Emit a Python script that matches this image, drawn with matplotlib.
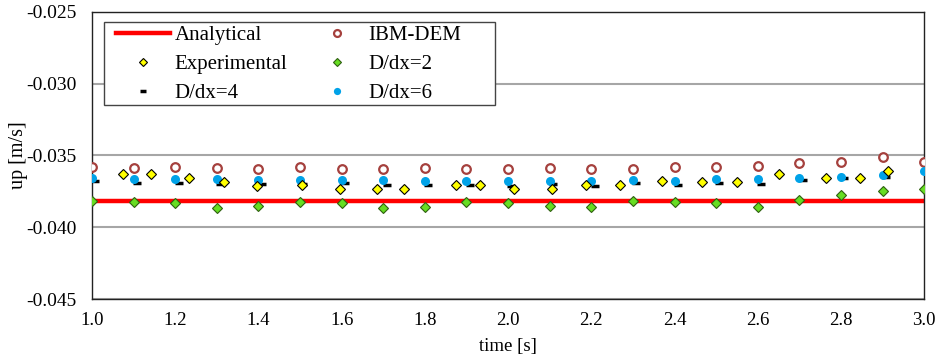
import matplotlib
matplotlib.use('Agg')
import matplotlib.pyplot as plt
from matplotlib.patches import Rectangle
from matplotlib.ticker import FormatStrFormatter, MultipleLocator

plt.rcParams['font.family'] = ['Liberation Serif', 'DejaVu Serif']
plt.rcParams['axes.unicode_minus'] = False

# analytical solution (constant)
t_analytical = [1.0, 3.0]
up_analytical = [-0.03815, -0.03815]

# simulation output times
t_sim = [1.0, 1.1, 1.2, 1.3, 1.4, 1.5, 1.6, 1.7, 1.8, 1.9, 2.0,
         2.1, 2.2, 2.3, 2.4, 2.5, 2.6, 2.7, 2.8, 2.9, 3.0]

up_ibm_dem = [-0.03578, -0.03585, -0.03580, -0.03590, -0.03594, -0.03580, -0.03594,
              -0.03594, -0.03590, -0.03595, -0.03595, -0.03585, -0.03594, -0.03594,
              -0.03583, -0.03583, -0.03571, -0.03550, -0.03545, -0.03508, -0.03548]

up_dx2 = [-0.03817, -0.03822, -0.03833, -0.03868, -0.03850, -0.03822, -0.03829,
          -0.03868, -0.03861, -0.03822, -0.03829, -0.03852, -0.03861, -0.03817,
          -0.03822, -0.03829, -0.03856, -0.03813, -0.03775, -0.03747, -0.03734]

# D/dx=4 dashes sit slightly right of the other series
t_dx4 = [1.008, 1.108, 1.208, 1.308, 1.408, 1.508, 1.608, 1.708, 1.808, 1.908, 2.008,
         2.108, 2.208, 2.308, 2.408, 2.508, 2.608, 2.708, 2.808, 2.908, 3.008]
up_dx4 = [-0.03678, -0.03694, -0.03694, -0.03701, -0.03701, -0.03701, -0.03694,
          -0.03706, -0.03706, -0.03706, -0.03711, -0.03699, -0.03711, -0.03694,
          -0.03706, -0.03694, -0.03699, -0.03668, -0.03660, -0.03648, -0.03624]

up_dx6 = [-0.03655, -0.03662, -0.03666, -0.03666, -0.03671, -0.03671, -0.03671,
          -0.03671, -0.03676, -0.03676, -0.03676, -0.03676, -0.03676, -0.03671,
          -0.03676, -0.03666, -0.03662, -0.03659, -0.03652, -0.03636, -0.03608]

t_exp = [1.075, 1.141, 1.232, 1.316, 1.396, 1.504, 1.595, 1.684, 1.751, 1.875, 1.933,
         2.014, 2.105, 2.188, 2.269, 2.369, 2.467, 2.550, 2.650, 2.764, 2.846, 2.912]
up_exp = [-0.03631, -0.03631, -0.03659, -0.03683, -0.03713, -0.03708, -0.03736,
          -0.03736, -0.03736, -0.03708, -0.03708, -0.03736, -0.03736, -0.03708,
          -0.03708, -0.03680, -0.03682, -0.03682, -0.03631, -0.03659, -0.03659,
          -0.03606]

fig = plt.figure(figsize=(9.43, 3.58), dpi=100)
ax = fig.add_axes([0.0976, 0.1648, 0.8824, 0.8017])

ax.plot(t_analytical, up_analytical, color='#FF0000', lw=3.2, label='Analytical', zorder=2)
ax.plot(t_sim, up_ibm_dem, ls='none', marker='o', ms=6.2, mfc='white', mec='#A5403D',
        mew=1.6, label='IBM-DEM', zorder=3)
ax.plot(t_exp, up_exp, ls='none', marker='D', ms=5.2, mfc='#FFFF00', mec='black',
        mew=0.8, label='Experimental', zorder=5)
ax.plot(t_sim, up_dx2, ls='none', marker='D', ms=5.2, mfc='#66DD22', mec='#2F5F10',
        mew=0.8, label='D/dx=2', zorder=4)
ax.plot(t_dx4, up_dx4, ls='none', marker='_', ms=5.5, mec='black', mew=2.5,
        label='D/dx=4', zorder=3)
ax.plot(t_sim, up_dx6, ls='none', marker='o', ms=6.5, mfc='#00A2E8', mec='#00A2E8',
        mew=0, label='D/dx=6', zorder=4)

ax.set_xlim(1.0, 3.0)
ax.set_ylim(-0.045, -0.025)
ax.xaxis.set_major_locator(MultipleLocator(0.2))
ax.yaxis.set_major_locator(MultipleLocator(0.005))
ax.xaxis.set_major_formatter(FormatStrFormatter('%.1f'))
ax.yaxis.set_major_formatter(FormatStrFormatter('%.3f'))
ax.tick_params(axis='both', length=0)
ax.tick_params(axis='x', pad=9, labelsize=13.5)
ax.tick_params(axis='y', pad=11, labelsize=14)
ax.grid(axis='y', color='#A6A6A6', lw=1.5)
ax.set_axisbelow(True)
for s in ax.spines.values():
    s.set_color('#222222')
    s.set_linewidth(1.0)

ax.set_xlabel('time [s]', fontsize=13.5)
ax.set_ylabel('up [m/s]', fontsize=14.5)
ax.xaxis.set_label_coords(0.5, -0.135)
ax.yaxis.set_label_coords(-0.077, 0.5)

# legend frame drawn separately (wider on the right like the original)
ax.add_patch(Rectangle((0.0144, 0.675), 0.470, 0.290, transform=ax.transAxes,
                       facecolor='white', edgecolor='#444444', lw=1.0, zorder=6))

h, l = ax.get_legend_handles_labels()
order = [0, 2, 4, 1, 3, 5]
leg = ax.legend([h[i] for i in order], [l[i] for i in order], ncol=2,
                loc='upper left', bbox_to_anchor=(0.029, 0.952),
                fontsize=15, frameon=False, handlelength=2.6, handletextpad=0.2,
                columnspacing=1.1, labelspacing=0.45, borderpad=0,
                borderaxespad=0, markerscale=0.8)
leg.set_zorder(7)

fig.savefig('out.png', dpi=100)
